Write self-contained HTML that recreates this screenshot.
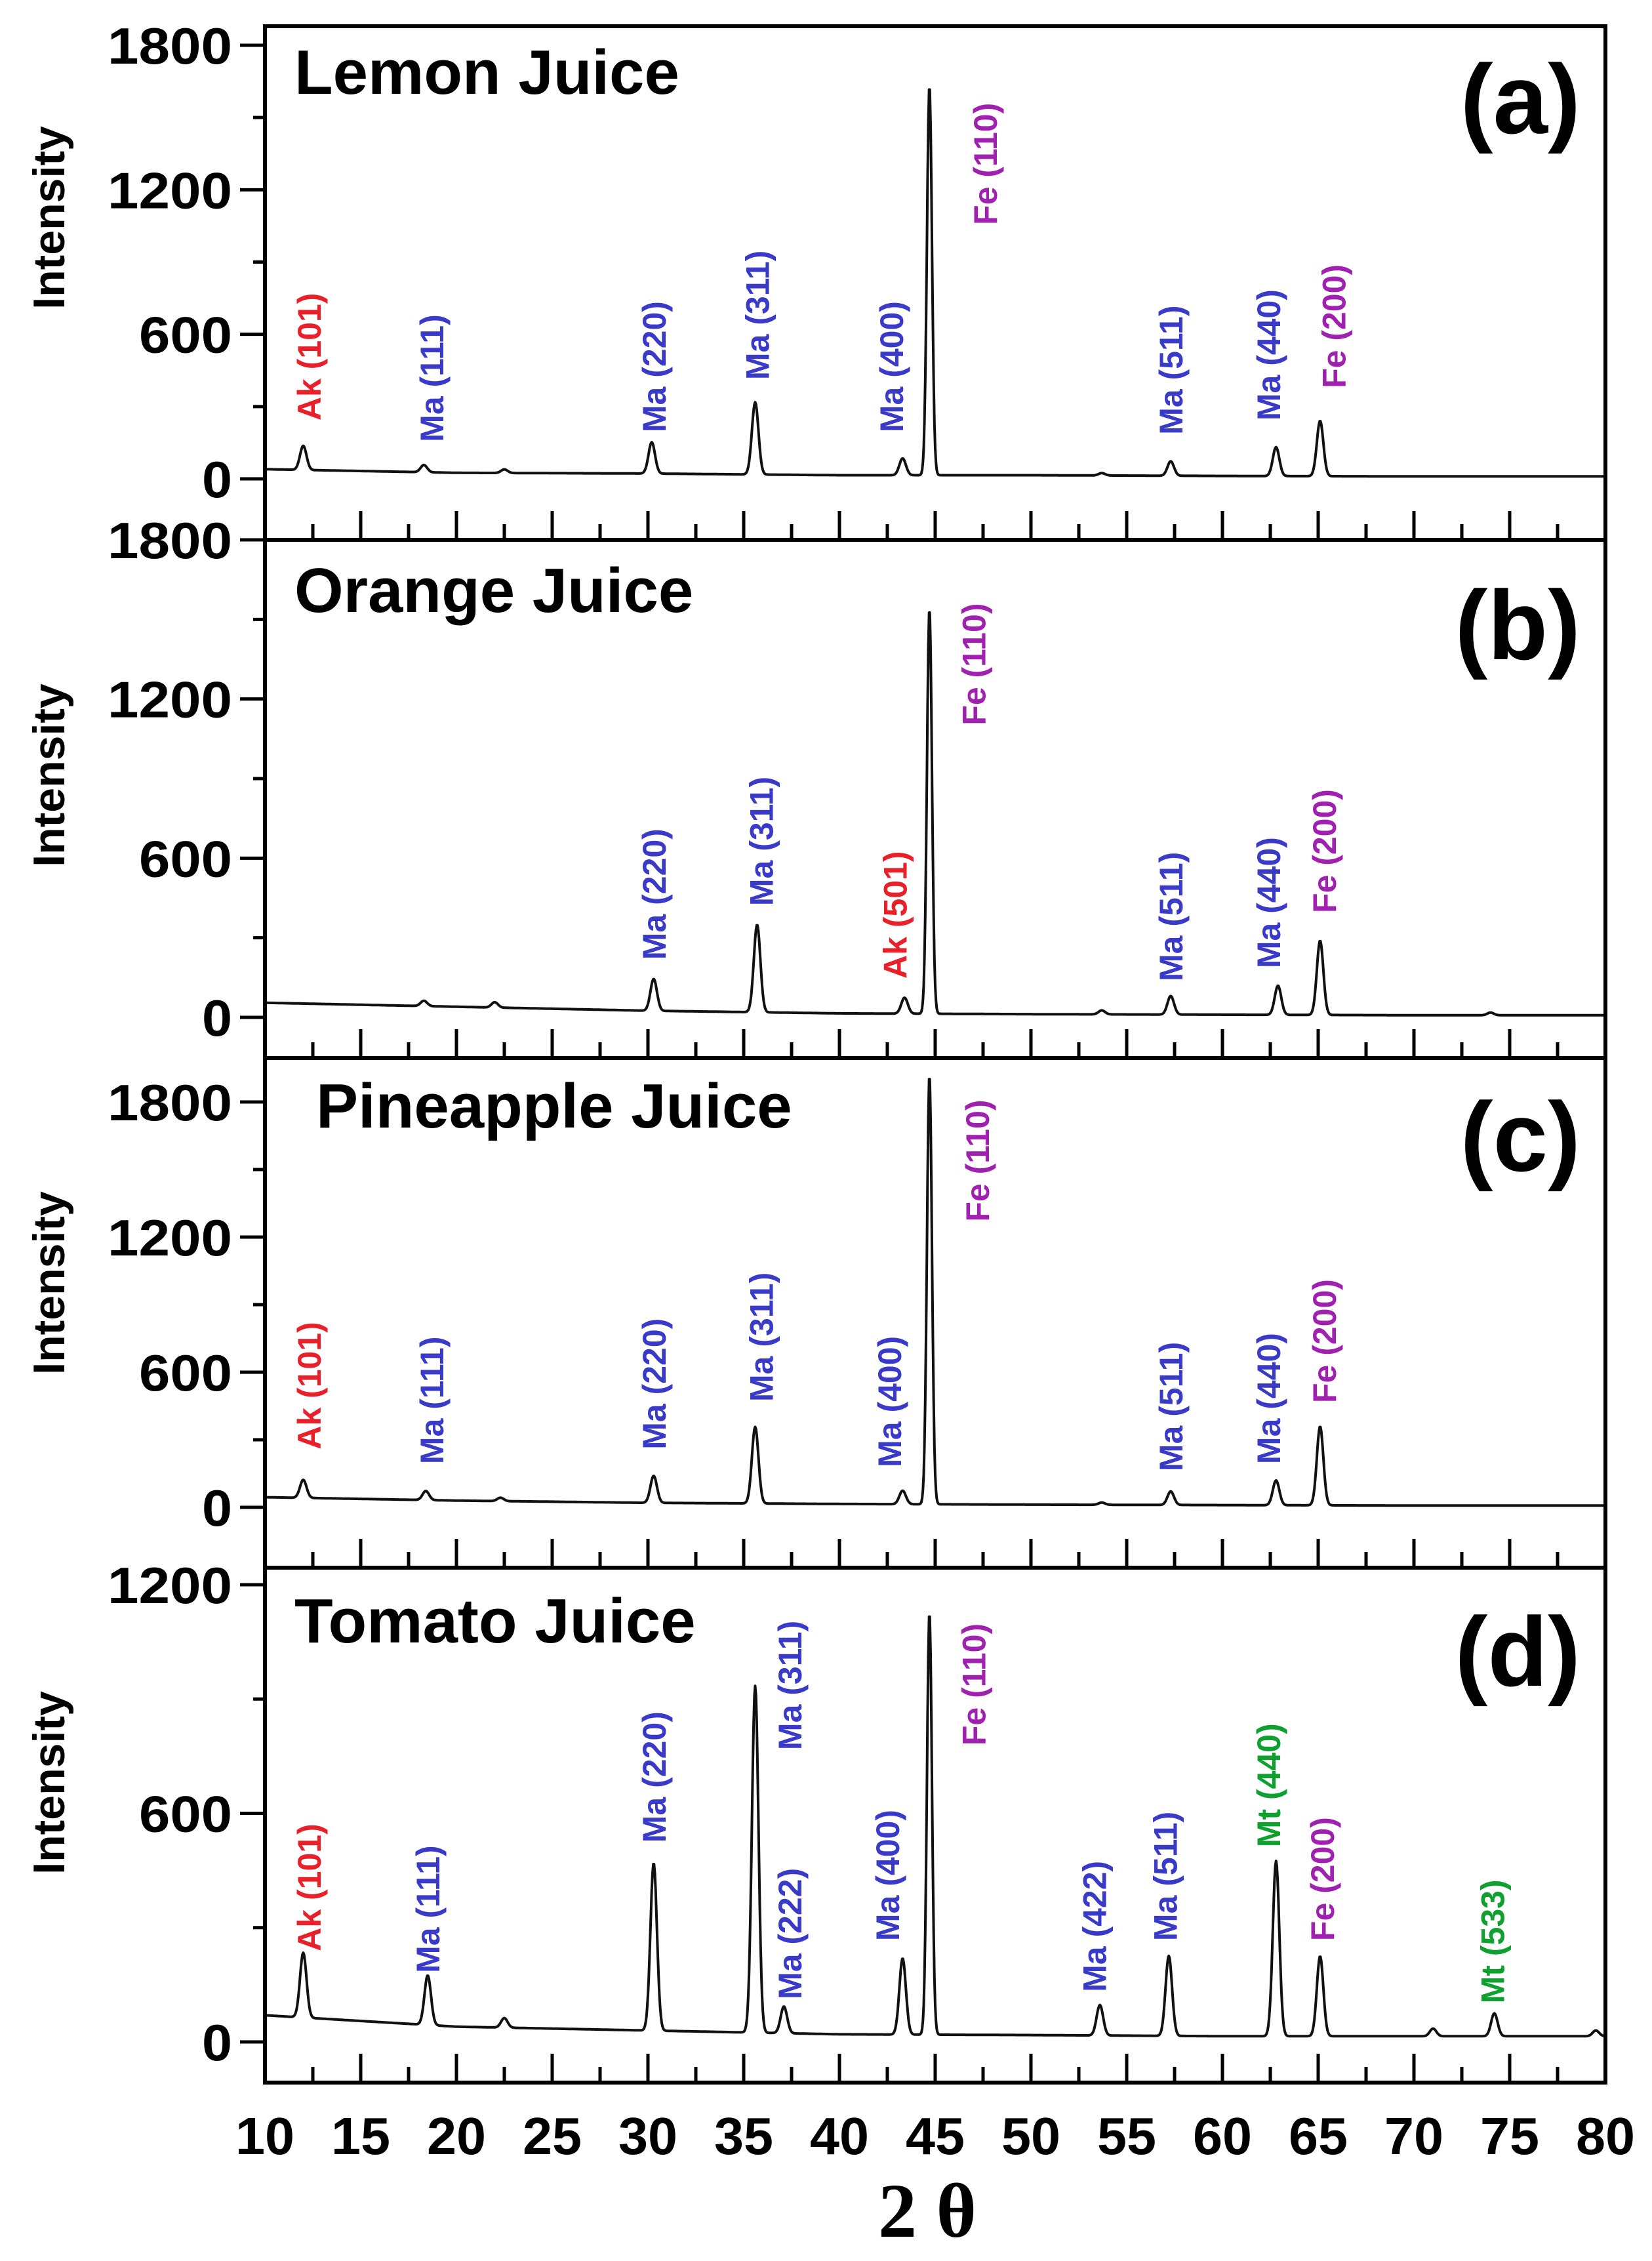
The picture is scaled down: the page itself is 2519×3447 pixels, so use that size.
<!DOCTYPE html>
<html><head><meta charset="utf-8"><style>
html,body{margin:0;padding:0;background:#fff}
svg{display:block}
text{font-family:"Liberation Sans",sans-serif;font-weight:bold}
</style></head><body>
<svg id="chart" width="2519" height="3447" viewBox="0 0 2519 3447" xmlns="http://www.w3.org/2000/svg"></svg>
<script>
// ---- data ----
const xTicks = [10,15,20,25,30,35,40,45,50,55,60,65,70,75,80];
const panelTitles = ["Lemon Juice","Orange Juice","Pineapple Juice","Tomato Juice"];
const panelTags = ["(a)","(b)","(c)","(d)"];
const yTicksA = [0,600,1200,1800];
const yTicksB = [0,600,1200,1800];
const yTicksC = [0,600,1200,1800];
const yTicksD = [0,600,1200];
// baseline values at 10,20,...,80
const baseA = [40,25,22,15,15,12,10,10];
const baseB = [55,40,25,15,12,10,8,8];
const baseC = [45,30,20,15,12,10,8,8];
const baseD = [70,40,30,20,18,15,15,15];
// peaks: position (2θ), height
const peakPosA = [12,18.3,22.5,30.2,35.6,43.3,44.7,53.7,57.3,62.8,65.1];
const peakHA  = [100,30,15,130,300,70,1620,10,60,120,230];
const peakPosB = [18.3,22,30.3,35.7,43.4,44.7,53.7,57.3,62.9,65.1,74];
const peakHB  = [20,20,120,330,60,1530,15,70,110,280,10];
const peakPosC = [12,18.4,22.3,30.3,35.6,43.3,44.7,53.7,57.3,62.8,65.1];
const peakHC  = [80,40,15,120,340,60,1910,10,60,110,350];
const peakPosD = [12,18.5,22.5,30.3,35.6,37.1,43.3,44.7,53.6,57.2,62.8,65.1,71,74.2,79.5];
const peakHD  = [170,130,25,440,910,70,200,1110,80,210,460,210,20,60,15];
// labels: text, 2θ position, intensity of label bottom, colour
const labTextA = ["Ak (101)","Ma (111)","Ma (220)","Ma (311)","Ma (400)","Fe (110)","Ma (511)","Ma (440)","Fe (200)"];
const labXA = [12.3,18.7,30.3,35.7,42.7,47.6,57.3,62.4,65.8];
const labYA = [242,153,193,411,193,1054,183,242,376];
const labCA = ["r","b","b","b","b","m","b","b","m"];
const labTextB = ["Ma (220)","Ma (311)","Ak (501)","Fe (110)","Ma (511)","Ma (440)","Fe (200)"];
const labXB = [30.3,35.9,42.9,47.0,57.3,62.4,65.3];
const labYB = [217,420,146,1101,136,185,393];
const labCB = ["b","b","r","m","b","b","m"];
const labTextC = ["Ak (101)","Ma (111)","Ma (220)","Ma (311)","Ma (400)","Fe (110)","Ma (511)","Ma (440)","Fe (200)"];
const labXC = [12.3,18.7,30.3,35.9,42.6,47.2,57.3,62.4,65.3];
const labYC = [257,192,257,469,178,1268,160,192,463];
const labCC = ["r","b","b","b","b","m","b","b","m"];
const labTextD = ["Ak (101)","Ma (111)","Ma (220)","Ma (311)","Ma (222)","Ma (400)","Fe (110)","Ma (422)","Ma (511)","Mt (440)","Fe (200)","Mt (533)"];
const labXD = [12.3,18.5,30.3,37.4,37.4,42.5,47.0,53.3,57.0,62.4,65.2,74.1];
const labYD = [238,181,523,766,112,265,778,131,265,511,265,101];
const labCD = ["r","b","b","b","b","b","m","b","b","g","m","g"];

// ---- layout ----
const NS="http://www.w3.org/2000/svg";
const svg=document.getElementById('chart');
const X0=404, X1=2448;
const xs=v=>X0+(v-10)/70*(X1-X0);
const colors={r:"#e8202a",b:"#3a3ac8",m:"#a020b0",g:"#10a030"};
const panels=[
 {top:40,bottom:823,y0:730,ymax:1800,ymaxPx:69,ticks:yTicksA,base:baseA,pp:peakPosA,ph:peakHA,lt:labTextA,lx:labXA,ly:labYA,lc:labCA,tx:449,tb:143,tagB:203,intY:332},
 {top:823,bottom:1613,y0:1551,ymax:1800,ymaxPx:823,ticks:yTicksB,base:baseB,pp:peakPosB,ph:peakHB,lt:labTextB,lx:labXB,ly:labYB,lc:labCB,tx:449,tb:933,tagB:1005,intY:1182},
 {top:1613,bottom:2390,y0:2298,ymax:1800,ymaxPx:1680,ticks:yTicksC,base:baseC,pp:peakPosC,ph:peakHC,lt:labTextC,lx:labXC,ly:labYC,lc:labCC,tx:482,tb:1719,tagB:1785,intY:1956},
 {top:2390,bottom:3175,y0:3113,ymax:1200,ymaxPx:2416,ticks:yTicksD,base:baseD,pp:peakPosD,ph:peakHD,lt:labTextD,lx:labXD,ly:labYD,lc:labCD,tx:449,tb:2504,tagB:2570,intY:2718}
];
function mk(tag,attrs,parent){const e=document.createElementNS(NS,tag);for(const k in attrs)e.setAttribute(k,attrs[k]);(parent||svg).appendChild(e);return e;}

panels.forEach((p,i)=>{
  const g=mk('g',{});
  
  
  const ys=v=>p.y0-(v/p.ymax)*(p.y0-p.ymaxPx);
  let d="";
  for(let x=10;x<=80.0001;x+=0.04){
    const bi=Math.min(6,Math.floor((x-10)/10)), f=(x-10)/10-bi;
    let v=p.base[bi]*(1-f)+p.base[bi+1]*f;
    for(let k=0;k<p.pp.length;k++){
      const w=p.pp[k]>44&&p.pp[k]<45.5?0.13:0.17;
      const t=(x-p.pp[k])/w; v+=p.ph[k]*Math.exp(-0.5*t*t);
    }
    d+=(d?"L":"M")+xs(x).toFixed(1)+","+ys(v).toFixed(1);
  }
  const c=mk('path',{d:d,fill:"none",stroke:"#111","stroke-width":4,"stroke-linejoin":"round"},g);
  
  
  const fr=mk('rect',{x:X0,y:p.top,width:X1-X0,height:p.bottom-p.top,fill:"none",stroke:"#000","stroke-width":6},g);
  
  
  for(let v=10;v<=80;v+=2.5){
    const maj=(v%5===0);
    mk('line',{x1:xs(v),x2:xs(v),y1:p.bottom,y2:p.bottom-(maj?44:24),stroke:"#000","stroke-width":5},g);
  }
  p.ticks.forEach(t=>{
    mk('line',{x1:X0-38,x2:X0,y1:ys(t),y2:ys(t),stroke:"#000","stroke-width":5},g);
    const lb=mk('text',{x:X0-50,y:ys(t)+28,"text-anchor":"end","font-size":78,textLength:t>=1000?190:(t>0?142:46),lengthAdjust:"spacingAndGlyphs"},g);
    lb.textContent=t;
    
    
  });
  for(let t=300;t<p.ymax;t+=600){
    mk('line',{x1:X0-18,x2:X0,y1:ys(t),y2:ys(t),stroke:"#000","stroke-width":5},g);
  }
  const tt=mk('text',{x:p.tx,y:p.tb,"font-size":96},g);
  tt.textContent=panelTitles[i];
  
  
  const tg=mk('text',{x:2410,y:p.tagB,"text-anchor":"end","font-size":150},g);
  tg.textContent=panelTags[i];
  
  
  const il=mk('text',{x:0,y:0,"font-size":68,"text-anchor":"middle",transform:`translate(98,${p.intY}) rotate(-90)`},g);
  il.textContent="Intensity";
  
  
  p.lt.forEach((s,k)=>{
    const px=xs(p.lx[k])+18, py=ys(p.ly[k]);
    const t=mk('text',{x:0,y:0,"font-size":50,fill:colors[p.lc[k]],transform:`translate(${px},${py}) rotate(-90)`},g);
    t.textContent=s;
    
    
  });
});
xTicks.forEach(v=>{
  const t=mk('text',{x:xs(v),y:3284,"text-anchor":"middle","font-size":80,textLength:90,lengthAdjust:"spacingAndGlyphs"});
  t.textContent=v;
  
  
});
const xt=mk('text',{x:1414,y:3410,"text-anchor":"middle","font-size":118,style:'font-family:"Liberation Serif",serif'});
xt.textContent="2 θ";


</script>
</body></html>
